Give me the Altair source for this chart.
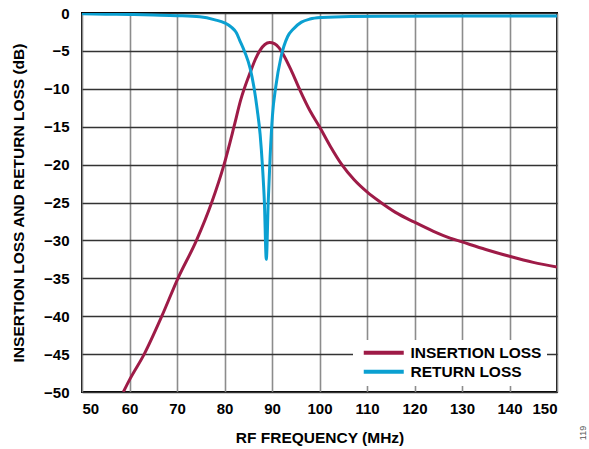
import altair as alt
import pandas as pd

# Insertion loss (dB) vs RF frequency (MHz)
il_freq = [58.7, 60, 63.1, 66.8, 70.2, 74.1, 77.3, 79.9, 82, 83.4, 85.5, 86.5, 87.5, 88.5,
           89.5, 90.5, 91.5, 92.4, 94, 95.9, 98, 100, 102.3, 104.7, 107.3, 110, 112.7, 116,
           120, 124, 127.5, 130, 135, 140, 145, 150]
il_db = [-50, -48.4, -45, -40, -35, -30, -25, -20, -15, -11.5, -7.7, -6.1, -4.9, -4.15,
         -3.9, -4.05, -4.6, -5.5, -7.5, -10.2, -12.9, -15, -17.6, -20, -22.0, -23.6, -24.9, -26.3,
         -27.6, -28.8, -29.7, -30.2, -31.2, -32.1, -32.9, -33.5]

# Return loss (dB) vs RF frequency (MHz)
rl_freq = [50, 55, 60, 65, 70, 74.8, 78, 80, 81.5, 82.5, 83.2, 84.3, 85.4, 86.2, 86.9, 87.5,
           88, 88.4, 88.8, 89.2, 89.6, 90.1, 90.8, 91.9, 93.3, 94.5, 96.2, 98, 100.4, 106.6,
           115, 130, 150]
rl_db = [-0.1, -0.15, -0.2, -0.27, -0.35, -0.5, -0.9, -1.3, -1.9, -2.6, -3.6, -5.2, -7.3, -9.8,
         -12.8, -16.0, -20.3, -25, -32.5, -25, -19, -13.5, -9.7, -5.8, -3.1, -2.1, -1.2, -0.8,
         -0.6, -0.45, -0.42, -0.4, -0.4]

series_names = ["INSERTION LOSS", "RETURN LOSS"]
series_colors = ["#9e1b47", "#0ba0d1"]

x_ticks = list(range(50, 151, 10))
y_ticks = list(range(-50, 1, 5))

df = pd.concat([
    pd.DataFrame({"freq": il_freq, "db": il_db, "series": series_names[0], "order": range(len(il_freq))}),
    pd.DataFrame({"freq": rl_freq, "db": rl_db, "series": series_names[1], "order": range(len(rl_freq))}),
])

FONT = "Liberation Sans"

lines = alt.Chart(df).mark_line(strokeWidth=3, clip=True, interpolate="monotone").encode(
    x=alt.X("freq:Q",
            scale=alt.Scale(domain=[50, 150], nice=False),
            axis=alt.Axis(values=x_ticks, title="RF FREQUENCY (MHz)", grid=True,
                          gridColor="#8c8c8c", gridWidth=1.6, tickSize=0,
                          labelPadding=9, titlePadding=14, domain=False)),
    y=alt.Y("db:Q",
            scale=alt.Scale(domain=[-50, 0], nice=False),
            axis=alt.Axis(values=y_ticks, title="INSERTION LOSS AND RETURN LOSS (dB)", grid=True,
                          gridColor="#333333", gridWidth=1.3, tickSize=0,
                          labelPadding=13, titlePadding=17, domain=False)),
    color=alt.Color("series:N",
                    scale=alt.Scale(domain=series_names, range=series_colors),
                    legend=alt.Legend(title=None, orient="none", legendX=271, legendY=327,
                                      symbolType="M-0.4,0H7.6", symbolSize=100, symbolStrokeWidth=4,
                                      labelFont=FONT, labelFontSize=15.5, labelFontWeight="bold",
                                      labelColor="black", labelOffset=37, rowPadding=1,
                                      fillColor="white", padding=5)),
    order="order:Q",
    detail="series:N",
)

fig_no = alt.Chart(pd.DataFrame({"t": ["119"]})).mark_text(
    angle=270, fontSize=9, font=FONT, color="#555555", align="center", baseline="middle"
).encode(
    text="t:N",
    x=alt.value(501),
    y=alt.value(420),
)

chart = alt.layer(lines, fig_no).properties(
    width=475, height=379,
    padding={"left": 82, "top": 13, "right": 32, "bottom": 57},
    autosize=alt.AutoSizeParams(type="none"),
).configure_view(
    stroke="black", strokeWidth=2
).configure_axis(
    labelFont=FONT, labelFontSize=15, labelFontWeight="bold", labelColor="black",
    titleFont=FONT, titleFontSize=15.5, titleFontWeight="bold", titleColor="black",
)

chart.save("out.html", embed_options={"renderer": "svg", "actions": False})
